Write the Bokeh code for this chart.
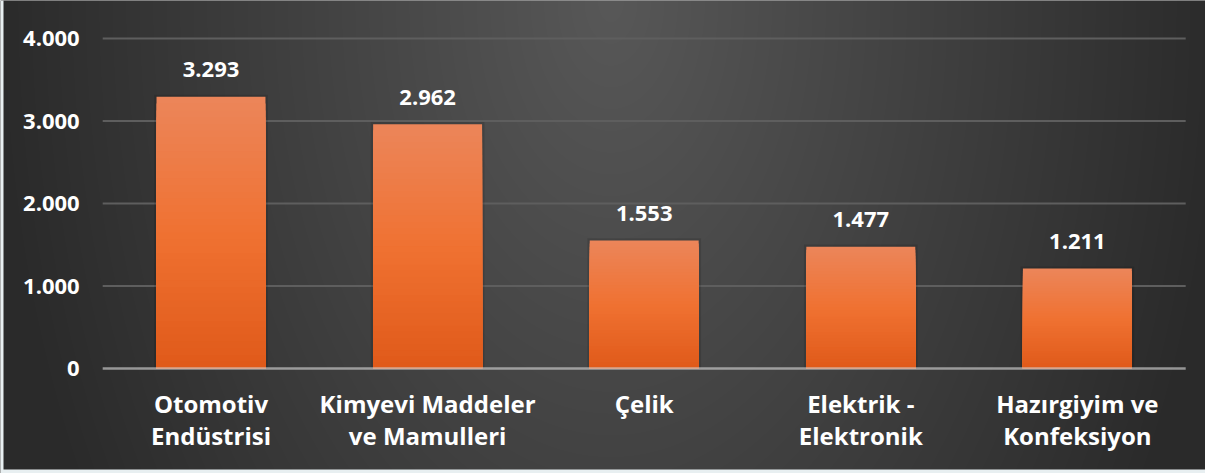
import numpy as np
from bokeh.plotting import figure
from bokeh.models import ColumnDataSource, Range1d
from bokeh.core.properties import value
from bokeh.embed import file_html
from bokeh.resources import INLINE

categories = ["Otomotiv\nEndüstrisi", "Kimyevi Maddeler\nve Mamulleri", "Çelik",
              "Elektrik -\nElektronik", "Hazırgiyim ve\nKonfeksiyon"]
values = [3293, 2962, 1553, 1477, 1211]
value_labels = ["3.293", "2.962", "1.553", "1.477", "1.211"]
y_ticks = [0, 1000, 2000, 3000, 4000]
y_tick_labels = ["0", "1.000", "2.000", "3.000", "4.000"]

W, H = 1205, 473
# layout (pixels): category slot width, first category centre, zero line, px per unit
SLOT = 216.6
X0 = 210.5
ZERO = 368.0
K = 0.0825

x_start = -X0 / SLOT
x_end = (W - X0) / SLOT
y_end = ZERO / K
y_start = -(H - ZERO) / K

p = figure(x_range=Range1d(x_start, x_end), y_range=Range1d(y_start, y_end),
           width=W, height=H, output_backend="svg", toolbar_location=None,
           x_axis_location=None, y_axis_location=None,
           min_border=0, min_border_left=0, min_border_right=0,
           min_border_top=0, min_border_bottom=0)
p.outline_line_color = None
p.background_fill_color = "#3a3a3a"
p.border_fill_color = "#3a3a3a"
p.xgrid.visible = False
p.ygrid.visible = False

# radial background gradient (style only)
yy, xx = np.mgrid[0:H, 0:W]
py = (H - 1) - yy  # row 0 is bottom
d = np.sqrt(((xx - 610) / 620.0) ** 2 + (py / 1000.0) ** 2)
f = np.clip(1 - d, 0, 1)
g = (42 + (88 - 42) * f).astype(np.uint32)
img = np.empty((H, W), dtype=np.uint32)
view = img.view(dtype=np.uint8).reshape((H, W, 4))
view[:, :, 0] = g
view[:, :, 1] = g
view[:, :, 2] = g
view[:, :, 3] = 255
pale = (232, 239, 241)
view[:, :3, 0], view[:, :3, 1], view[:, :3, 2] = pale
view[py >= 469, 0] = pale[0]
view[py >= 469, 1] = pale[1]
view[py >= 469, 2] = pale[2]
p.image_rgba(image=[img], x=x_start, y=y_start, dw=x_end - x_start, dh=y_end - y_start)

xi = list(range(len(categories)))

# gridlines
grid_y = [t for t in y_ticks if t > 0]
p.segment(x0=[-0.5] * len(grid_y), x1=[len(categories) - 0.5] * len(grid_y),
          y0=grid_y, y1=grid_y, line_color="#5e5e5e", line_width=2)

# bar shadows
p.vbar(x=xi, top=[v + 25 for v in values], bottom=0, width=0.525,
       fill_color="black", fill_alpha=0.12, line_color=None)

# gradient bars: nested slices (largest first) computed from the data values
top_c = (236, 134, 90)
mid_c = (240, 114, 50)
bot_c = (224, 90, 26)
N = 40
xs, tops, cols = [], [], []
for i in range(N - 1, -1, -1):
    t = (i + 0.5) / N
    if t < 0.5:
        k = t / 0.5
        rgb = tuple(int(bot_c[j] + (mid_c[j] - bot_c[j]) * k) for j in range(3))
    else:
        k = (t - 0.5) / 0.5
        rgb = tuple(int(mid_c[j] + (top_c[j] - mid_c[j]) * k) for j in range(3))
    for c, v in zip(xi, values):
        xs.append(c)
        tops.append(v * (i + 1) / N)
        cols.append("#%02x%02x%02x" % rgb)
src = ColumnDataSource(dict(x=xs, top=tops, color=cols))
p.vbar(x="x", bottom=0, top="top", width=0.503, source=src,
       fill_color="color", line_color=None)

# zero line
p.segment(x0=[-0.5], x1=[len(categories) - 0.5], y0=[0], y1=[0],
          line_color="#d0d0d0", line_alpha=0.65, line_width=2.5)

NUM_FONT = value("Open Sans")

# value labels
p.text(x=xi, y=values, text=value_labels, text_align="center", text_baseline="alphabetic",
       y_offset=-27, text_color="white", text_font_size="22px", text_font_style="bold",
       text_font=NUM_FONT)

# y tick labels
p.text(x=[-0.5] * len(y_ticks), y=y_ticks, text=y_tick_labels, text_align="right",
       text_baseline="middle", x_offset=-23, text_color="white", text_font_size="22px",
       text_font_style="bold", text_font=NUM_FONT)

# category labels (two lines)
line1 = [c.split("\n")[0] for c in categories]
line2 = [c.split("\n")[1] if "\n" in c else "" for c in categories]
p.text(x=xi, y=[0] * len(xi), text=line1, text_align="center", text_baseline="alphabetic",
       y_offset=35, text_color="white", text_font_size="24px", text_font_style="bold",
       text_font=value("Open Sans"))
p.text(x=xi, y=[0] * len(xi), text=line2, text_align="center", text_baseline="alphabetic",
       y_offset=67, text_color="white", text_font_size="24px", text_font_style="bold",
       text_font=value("Open Sans"))

open("out.html", "w").write(file_html(p, INLINE))
